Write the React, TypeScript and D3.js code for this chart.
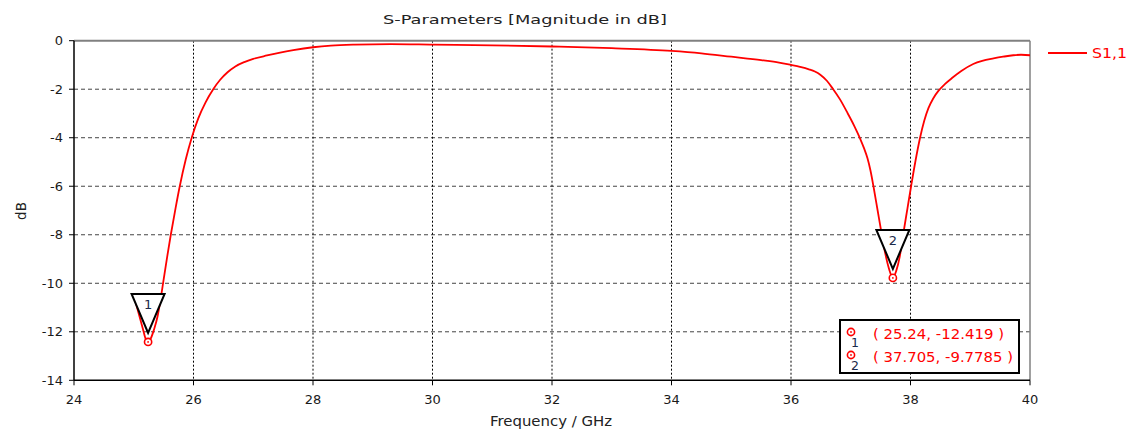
import React from "react";
import * as d3 from "d3";

const freq = [25.0, 25.05, 25.1, 25.15, 25.2, 25.24, 25.28, 25.34, 25.4, 25.45, 25.5, 25.56, 25.62, 25.7, 25.77, 25.87, 25.97, 26.08, 26.2, 26.33, 26.45, 26.57, 26.7, 26.85, 27.0, 27.23, 27.45, 27.67, 28.0, 28.3, 28.7, 29.3, 30.0, 31.0, 32.0, 33.0, 34.0, 34.5, 35.0, 35.5, 35.8, 36.0, 36.15, 36.3, 36.4, 36.49, 36.6, 36.7, 36.82, 36.95, 37.06, 37.15, 37.22, 37.28, 37.33, 37.38, 37.45, 37.52, 37.58, 37.64, 37.705, 37.76, 37.82, 37.88, 37.95, 38.01, 38.08, 38.16, 38.23, 38.3, 38.38, 38.47, 38.58, 38.7, 38.85, 39.05, 39.2, 39.39, 39.55, 39.72, 39.85, 40.0];
const s11 = [-10.5, -10.95, -11.4, -11.85, -12.3, -12.419, -12.3, -11.9, -11.35, -10.65, -9.85, -8.9, -8.0, -6.9, -6.0, -4.9, -4.0, -3.2, -2.55, -2.0, -1.6, -1.3, -1.06, -0.88, -0.75, -0.61, -0.49, -0.39, -0.27, -0.2, -0.16, -0.14, -0.16, -0.19, -0.24, -0.31, -0.42, -0.52, -0.66, -0.8, -0.9, -1.0, -1.08, -1.18, -1.27, -1.4, -1.65, -1.98, -2.42, -3.0, -3.52, -4.0, -4.42, -4.85, -5.35, -6.0, -7.0, -8.0, -8.8, -9.4, -9.7785, -9.5, -8.9, -7.95, -6.9, -6.0, -5.0, -4.0, -3.3, -2.78, -2.38, -2.06, -1.78, -1.53, -1.25, -0.96, -0.83, -0.73, -0.66, -0.6, -0.58, -0.6];

const xTicks = [24, 26, 28, 30, 32, 34, 36, 38, 40];
const yTicks = [0, -2, -4, -6, -8, -10, -12, -14];

const markerIds = ["1", "2"];
const markerX = [25.24, 37.705];
const markerY = [-12.419, -9.7785];
const markerLabels = ["( 25.24, -12.419 )", "( 37.705, -9.7785 )"];

const title = "S-Parameters [Magnitude in dB]";
const xLabel = "Frequency / GHz";
const yLabel = "dB";
const seriesName = "S1,1";

const W = 1129;
const H = 430;
const L = 74, R = 1030, T = 40.7, B = 380.3;
const FONT = "DejaVu Sans, Verdana, sans-serif";
const RED = "#ff0000";

export default function App() {
  const x = d3.scaleLinear().domain([24, 40]).range([L, R]);
  const y = d3.scaleLinear().domain([-14, 0]).range([B, T]);
  const line = d3
    .line<number>()
    .x((_, i) => x(freq[i]))
    .y((d) => y(d))
    .curve(d3.curveMonotoneX);
  const path = line(s11) || "";

  return (
    <svg
      width={W}
      height={H}
      style={{ position: "absolute", left: 0, top: 0, background: "#fff" }}
      fontFamily={FONT}
    >
      <rect x={0} y={0} width={W} height={H} fill="#fff" />
      {/* grid */}
      {yTicks.filter((t) => t !== 0 && t !== -14).map((t) => (
        <line key={"gy" + t} x1={L} x2={R} y1={y(t)} y2={y(t)} stroke="#444" strokeWidth={1} strokeDasharray="4,3" />
      ))}
      {xTicks.filter((t) => t !== 24 && t !== 40).map((t) => (
        <line key={"gx" + t} x1={x(t)} x2={x(t)} y1={T} y2={B} stroke="#000" strokeWidth={1} strokeDasharray="2,2" />
      ))}
      {/* frame */}
      <line x1={L} x2={R} y1={T} y2={T} stroke="#808080" strokeWidth={2} />
      <line x1={R} x2={R} y1={T} y2={B} stroke="#808080" strokeWidth={1.5} />
      <line x1={L} x2={L} y1={T} y2={B} stroke="#000" strokeWidth={1.5} />
      <line x1={L} x2={R} y1={B} y2={B} stroke="#000" strokeWidth={1.5} />
      {/* ticks */}
      {yTicks.map((t) => (
        <g key={"ty" + t}>
          <line x1={L - 5} x2={L} y1={y(t)} y2={y(t)} stroke="#000" strokeWidth={1} />
          <text x={L - 11} y={y(t)} dy="0.35em" textAnchor="end" fontSize={13} fill="#1a1a1a">
            {t}
          </text>
        </g>
      ))}
      {xTicks.map((t) => (
        <g key={"tx" + t}>
          <line x1={x(t)} x2={x(t)} y1={B} y2={B + 5} stroke="#000" strokeWidth={1} />
          <text x={x(t)} y={B + 19} dy="0.35em" textAnchor="middle" fontSize={13} fill="#1a1a1a">
            {t}
          </text>
        </g>
      ))}
      {/* titles */}
      <text x={383} y={19} dy="0.35em" fontSize={13} fill="#222" textLength={284} lengthAdjust="spacingAndGlyphs">
        {title}
      </text>
      <text x={490} y={421} dy="0.35em" fontSize={13.5} fill="#222" textLength={122} lengthAdjust="spacingAndGlyphs">
        {xLabel}
      </text>
      <text transform={`translate(21,211) rotate(-90)`} dy="0.35em" textAnchor="middle" fontSize={13.5} fill="#222">
        {yLabel}
      </text>
      {/* curve */}
      <path d={path} fill="none" stroke={RED} strokeWidth={1.8} />
      {/* markers */}
      {markerIds.map((id, i) => {
        const px = x(markerX[i]);
        const py = y(markerY[i]);
        const apexY = py - 9;
        const topY = apexY - 39;
        return (
          <g key={"m" + id}>
            <circle cx={px} cy={py} r={3.6} fill="#fff" stroke={RED} strokeWidth={1.6} />
            <circle cx={px} cy={py} r={0.9} fill={RED} />
            <path
              d={`M${px - 16.5},${topY} L${px + 16.5},${topY} L${px},${apexY} Z`}
              fill="#fff"
              stroke="#000"
              strokeWidth={2}
              strokeLinejoin="miter"
            />
            <text x={px} y={topY + 11} dy="0.35em" textAnchor="middle" fontSize={13} fill="#1c2a4a">
              {id}
            </text>
          </g>
        );
      })}
      {/* legend */}
      <line x1={1048} x2={1087} y1={53} y2={53} stroke={RED} strokeWidth={1.8} />
      <text x={1092} y={53} dy="0.35em" fontSize={13.5} fill={RED} textLength={35} lengthAdjust="spacingAndGlyphs">
        {seriesName}
      </text>
      {/* marker box */}
      <rect x={840} y={320} width={179} height={53} fill="#fff" stroke="#000" strokeWidth={2} />
      {markerIds.map((id, i) => {
        const cy = 332 + i * 23;
        return (
          <g key={"mb" + id}>
            <circle cx={851} cy={cy} r={3.6} fill="#fff" stroke={RED} strokeWidth={1.6} />
            <circle cx={851} cy={cy} r={0.9} fill={RED} />
            <text x={855} y={cy + 11} dy="0.35em" textAnchor="middle" fontSize={12.5} fill="#1c2a4a">
              {id}
            </text>
            <text
              x={873}
              y={cy + 2}
              dy="0.35em"
              fontSize={13.5}
              fill={RED}
              textLength={i === 0 ? 131 : 140}
              lengthAdjust="spacingAndGlyphs"
            >
              {markerLabels[i]}
            </text>
          </g>
        );
      })}
    </svg>
  );
}
